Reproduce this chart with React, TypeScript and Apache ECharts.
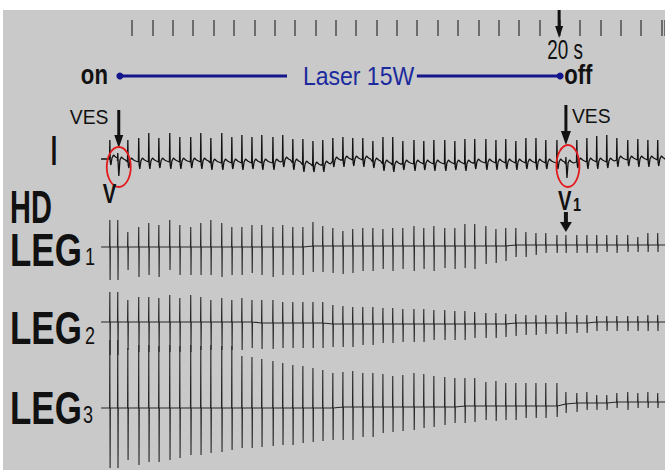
import React, { useEffect, useRef } from "react";
import * as echarts from "echarts";

// ---- time base (seconds) ----
const beatTimes = [
  -1.04, -0.67, -0.2, 0.31, 0.78, 1.25, 1.76, 2.23, 2.74, 3.21,
  3.68, 4.19, 4.66, 5.13, 5.6, 6.06, 6.58, 7.04, 7.51, 7.98,
  8.45, 8.91, 9.38, 9.85, 10.31, 10.78, 11.25, 11.72, 12.18, 12.65,
  13.17, 13.63, 14.1, 14.61, 15.08, 15.55, 16.01, 16.53, 17.0, 17.46,
  17.93, 18.4, 18.87, 19.33, 19.85, 20.27, 20.78, 21.25, 21.71, 22.18,
  22.65, 23.16, 23.63, 24.1, 24.56,
];
const vesTimes = [-0.67, 20.27];
const laserOn = -0.57;
const laserOff = 20;
const laserLabel = "Laser 15W";
const timeMarker = 20;
const timeMarkerLabel = "20 s";
const traceStart = -1.45;
const traceEnd = 24.9;

// ---- lead I ----
const iBase = [
  1, -1, -2, -2, -2, -2, -2, -2, -2, -2,
  -3, -3, -3, -3, -3, -3, -3, -1, -3, -5,
  -6, -5, -1, 0, 0, 0, -2, -4, -5, -4,
  -4, -4, -4, -4, -4, -4, -3, -3, -3, -3,
  -3, -3, -3, -3, -3, -4, -2, -2, -2, -2,
  0, 0, 0, 0, 0,
];
const iUp = [
  19, 8, 22, 24, 29, 24, 29, 25, 25, 29,
  25, 30, 26, 28, 26, 28, 26, 26, 24, 26,
  25, 25, 23, 23, 22, 22, 21, 27, 28, 23,
  24, 23, 24, 24, 23, 25, 24, 24, 23, 24,
  22, 25, 25, 23, 23, 7, 22, 24, 26, 27,
  22, 20, 21, 20, 20,
];
const iDown = [
  6, 15, 6, 7, 7, 6, 7, 7, 6, 7,
  7, 7, 6, 7, 6, 7, 7, 6, 7, 7,
  6, 7, 6, 7, 6, 7, 6, 7, 7, 6,
  7, 6, 7, 7, 6, 7, 6, 7, 7, 6,
  7, 6, 7, 6, 6, 14, 6, 7, 7, 6,
  7, 6, 7, 7, 6,
];

// ---- LEG1 ----
const leg1Base = [
  -1, -1, -1, -1, -1, -1, -1, -1, -1, -1,
  -1, -1, -1, -1, -1, -1, -1, -1, -1, -1,
  0, 0, 0, 0, 0, 0, 0, 0, 0, 0,
  0, 0, 0, 0, 0, 0, 0, 0, 0, 0,
  1, 1, 1, 1, 1, 1, 1, 1, 1, 1,
  1, 1, 1, 1, 1,
];
const leg1Up = [
  27, 27, 15, 20, 24, 22, 27, 22, 20, 24,
  27, 24, 20, 20, 22, 22, 20, 22, 20, 20,
  24, 20, 18, 15, 17, 18, 18, 17, 18, 18,
  20, 18, 20, 18, 18, 22, 22, 20, 17, 18,
  17, 13, 12, 12, 10, 10, 10, 10, 10, 10,
  10, 10, 8, 12, 12,
];
const leg1Down = [
  33, 33, 23, 30, 28, 30, 23, 28, 28, 28,
  28, 30, 28, 28, 26, 28, 30, 28, 28, 28,
  26, 26, 27, 28, 27, 25, 25, 23, 25, 23,
  25, 23, 25, 22, 23, 22, 23, 18, 17, 15,
  12, 12, 10, 8, 8, 8, 8, 8, 8, 7,
  8, 7, 7, 7, 7,
];

// ---- LEG2 ----
const leg2Base = [
  1, 1, 1, 1, 1, 1, 1, 1, 1, 1,
  1, 1, 1, 1, 1, 0, 0, 0, 0, 0,
  0, 0, -1, -1, -1, -1, -1, -1, -1, -1,
  -1, -1, -1, -1, -1, -1, -1, -1, -1, -1,
  0, 0, 0, 0, 0, 0, 0, 0, 1, 1,
  1, 1, 1, 1, 1,
];
const leg2Up = [
  30, 30, 22, 25, 25, 24, 27, 24, 27, 25,
  22, 24, 22, 24, 22, 23, 23, 21, 21, 21,
  21, 21, 19, 18, 17, 17, 17, 16, 16, 15,
  15, 15, 14, 14, 13, 13, 12, 11, 11, 10,
  9, 8, 8, 8, 8, 11, 8, 8, 6, 6,
  6, 6, 6, 7, 7,
];
const leg2Down = [
  33, 33, 28, 30, 30, 30, 30, 30, 30, 28,
  28, 28, 28, 28, 26, 26, 26, 25, 25, 25,
  25, 25, 23, 23, 23, 21, 21, 19, 19, 18,
  18, 18, 16, 16, 16, 16, 14, 14, 14, 13,
  13, 12, 12, 11, 11, 11, 10, 10, 9, 9,
  9, 9, 9, 9, 9,
];

// ---- LEG3 ----
const leg3Base = [
  -1, -1, -1, -1, -1, -1, -1, -1, -1, -1,
  -1, -1, -1, -1, -1, -1, -1, -1, -1, -1,
  -1, -1, -1, 0, 0, 0, 0, 0, 0, 0,
  0, 0, 0, 0, 0, 1, 1, 1, 1, 1,
  1, 1, 1, 1, 1, 3, 4, 4, 4, 4,
  5, 5, 5, 5, 5,
];
const leg3Up = [
  68, 68, 60, 63, 63, 62, 63, 62, 63, 62,
  63, 62, 62, 52, 51, 49, 47, 45, 43, 42,
  40, 38, 35, 35, 36, 34, 34, 33, 31, 32,
  34, 33, 31, 30, 29, 28, 28, 24, 25, 23,
  23, 23, 23, 23, 23, 12, 10, 11, 8, 8,
  9, 10, 9, 10, 9,
];
const leg3Down = [
  60, 60, 52, 57, 54, 54, 52, 50, 47, 47,
  45, 44, 42, 40, 40, 39, 38, 37, 37, 35,
  34, 33, 32, 33, 33, 30, 30, 26, 25, 24,
  23, 21, 20, 18, 16, 17, 16, 14, 15, 14,
  14, 12, 12, 12, 11, 9, 9, 7, 7, 7,
  6, 8, 6, 6, 6,
];

// beat morphologies (time offset in s, level relative to baseline)
function legData(base: number[], up: number[], down: number[]) {
  const pts: number[][] = [[traceStart, base[0]]];
  beatTimes.forEach((t, i) => {
    const b = base[i];
    pts.push([t - 0.012, b], [t, b + up[i]], [t + 0.012, b - down[i]], [t + 0.024, b]);
  });
  pts.push([traceEnd, base[base.length - 1]]);
  return pts;
}
function leadIData() {
  const pts: number[][] = [[traceStart, iBase[0]]];
  beatTimes.forEach((t, i) => {
    const b = iBase[i];
    pts.push(
      [t - 0.015, b],
      [t, b + iUp[i]],
      [t + 0.02, b - 3],
      [t + 0.05, b - iDown[i]],
      [t + 0.1, b + 1],
      [t + 0.17, b + 4],
      [t + 0.27, b + 2],
      [t + 0.36, b + 1]
    );
  });
  pts.push([traceEnd, iBase[iBase.length - 1]]);
  return pts;
}

const FONT = "'Liberation Sans', Arial, Helvetica, sans-serif";
const BG = "#c9c9c9";
const NAVY = "#15158c";

function text(
  t: string,
  x: number,
  y: number,
  size: number,
  opts: { bold?: boolean; align?: string; scaleX?: number; fill?: string; extra?: any } = {}
) {
  return {
    type: "text",
    x,
    y,
    scaleX: opts.scaleX ?? 1,
    z: 100,
    style: {
      text: t,
      fontSize: size,
      fontWeight: opts.bold ? "bold" : "normal",
      fontFamily: FONT,
      fill: opts.fill ?? "#111",
      align: opts.align ?? "left",
      verticalAlign: "middle",
      ...(opts.extra || {}),
    },
  };
}
function arrow(x: number, y1: number, y2: number, sw: number, hw: number, hh: number) {
  return [
    { type: "rect", z: 100, shape: { x: x - sw / 2, y: y1, width: sw, height: y2 - hh - y1 + 1 }, style: { fill: "#111" } },
    {
      type: "polygon",
      z: 100,
      shape: { points: [[x - hw / 2, y2 - hh], [x + hw / 2, y2 - hh], [x, y2]] },
      style: { fill: "#111" },
    },
  ];
}

const X_LEFT = 100;
const X_WIDTH = 565;
const TMIN = -1.5;
const TMAX = 24.9;

export default function App() {
  const ref = useRef<HTMLDivElement>(null);
  useEffect(() => {
    if (!ref.current) return;
    const chart = echarts.init(ref.current, null, { renderer: "svg" });
    const pxPerSec = X_WIDTH / (TMAX - TMIN);
    const tickLeft = X_LEFT + (0 - TMIN) * pxPerSec;
    const tickWidth = 560;
    const hidden = { show: false };
    const timeAxis = (gridIndex: number) => ({
      type: "value",
      gridIndex,
      min: TMIN,
      max: TMAX,
      show: false,
    });
    const yAx = (gridIndex: number, min: number, max: number) => ({
      type: "value",
      gridIndex,
      min,
      max,
      show: false,
    });
    const traceSeries = (idx: number, data: number[][], color: string, width: number) => ({
      type: "line",
      xAxisIndex: idx,
      yAxisIndex: idx,
      data,
      symbol: "none",
      showSymbol: false,
      silent: true,
      clip: false,
      z: 3,
      lineStyle: { color, width },
    });
    chart.setOption({
      animation: false,
      backgroundColor: BG,
      grid: [
        { left: tickLeft, top: 26, width: tickWidth, height: 10 },
        { left: X_LEFT, top: 70, width: X_WIDTH, height: 12 },
        { left: X_LEFT, top: 120, width: X_WIDTH, height: 70 },
        { left: X_LEFT, top: 200, width: X_WIDTH, height: 90 },
        { left: X_LEFT, top: 280, width: X_WIDTH, height: 90 },
        { left: X_LEFT, top: 330, width: X_WIDTH, height: 140 },
      ],
      xAxis: [
        {
          type: "value",
          gridIndex: 0,
          position: "top",
          min: 0,
          max: tickWidth / pxPerSec,
          interval: 1,
          axisLine: hidden,
          axisLabel: hidden,
          splitLine: hidden,
          axisTick: { show: true, inside: false, length: 16, lineStyle: { color: "#555", width: 1.6 } },
        },
        timeAxis(1),
        timeAxis(2),
        timeAxis(3),
        timeAxis(4),
        timeAxis(5),
      ],
      yAxis: [
        yAx(0, 0, 1),
        yAx(1, -1, 1),
        yAx(2, -30, 40),
        yAx(3, -44, 46),
        yAx(4, -47, 43),
        yAx(5, -63, 77),
      ],
      series: [
        {
          type: "line",
          xAxisIndex: 1,
          yAxisIndex: 1,
          data: [
            [laserOn, 0],
            [laserOff, 0],
          ],
          symbol: "circle",
          symbolSize: 7,
          showSymbol: true,
          silent: true,
          itemStyle: { color: NAVY },
          lineStyle: { color: NAVY, width: 3 },
          z: 3,
        },
        traceSeries(2, leadIData(), "#111", 1.3),
        traceSeries(3, legData(leg1Base, leg1Up, leg1Down), "#262626", 1.1),
        traceSeries(4, legData(leg2Base, leg2Up, leg2Down), "#262626", 1.1),
        traceSeries(5, legData(leg3Base, leg3Up, leg3Down), "#262626", 1.1),
      ],
    });

    const px = (t: number) => chart.convertToPixel({ xAxisIndex: 2 }, t) as unknown as number;
    const markX = px(timeMarker);
    const ves1 = px(vesTimes[0]);
    const ves2 = px(vesTimes[1]);
    const onX = px(laserOn);
    const offX = px(laserOff);

    const elements: any[] = [
      { type: "rect", z: 100, shape: { x: 0, y: 0, width: 665, height: 10 }, style: { fill: "#fff" } },
      { type: "rect", z: 100, shape: { x: 0, y: 0, width: 3, height: 470 }, style: { fill: "#fff" } },
      ...arrow(markX - 1, 10, 38, 3, 8, 12),
      text(timeMarkerLabel, markX + 5, 50, 27, { align: "center", scaleX: 0.7 }),
      text("on", onX - 12, 75, 27, { bold: true, align: "right", scaleX: 0.82 }),
      text("off", offX + 4, 75, 27, { bold: true, align: "left", scaleX: 0.82 }),
      text(laserLabel, 287, 76, 26, {
        fill: "#1b2a9e",
        scaleX: 0.885,
        extra: { backgroundColor: BG, padding: [2, 3, 2, 18] },
      }),
      text("VES", ves1 - 48, 117, 21, { scaleX: 0.92 }),
      ...arrow(ves1 + 1, 110, 148, 3, 9, 13),
      text("VES", ves2 + 6, 116, 21, { scaleX: 0.92 }),
      ...arrow(ves2, 105, 145, 3, 10, 14),
      {
        type: "ellipse",
        z: 100,
        shape: { cx: ves1 + 1, cy: 167, rx: 12, ry: 20 },
        style: { fill: "none", stroke: "#e31a1c", lineWidth: 1.8 },
      },
      {
        type: "ellipse",
        z: 100,
        shape: { cx: ves2 + 2, cy: 166, rx: 11.5, ry: 21 },
        style: { fill: "none", stroke: "#e31a1c", lineWidth: 1.8 },
      },
      text("I", 54, 150, 42, { bold: true, align: "center", scaleX: 0.55 }),
      text("V", ves1 - 15, 193, 27, { bold: true, scaleX: 0.75 }),
      text("V", ves2 - 8, 200, 27, { bold: true, scaleX: 0.75 }),
      text("1", ves2 + 7, 204, 18, { bold: true, scaleX: 0.8 }),
      ...arrow(ves2, 212, 232, 4, 12, 10),
      text("HD", 10, 207, 46, { bold: true, scaleX: 0.63 }),
      text("LEG", 10, 250, 46, { bold: true, scaleX: 0.76 }),
      text("1", 85, 257, 24, { scaleX: 0.75 }),
      text("LEG", 10, 328, 46, { bold: true, scaleX: 0.76 }),
      text("2", 85, 336, 24, { scaleX: 0.75 }),
      text("LEG", 10, 408, 46, { bold: true, scaleX: 0.76 }),
      text("3", 83, 415, 24, { scaleX: 0.75 }),
    ];
    chart.setOption({ graphic: { elements } });
    return () => chart.dispose();
  }, []);
  return (
    <div
      ref={ref}
      style={{ position: "fixed", left: 0, top: 0, width: 665, height: 470 }}
    />
  );
}
